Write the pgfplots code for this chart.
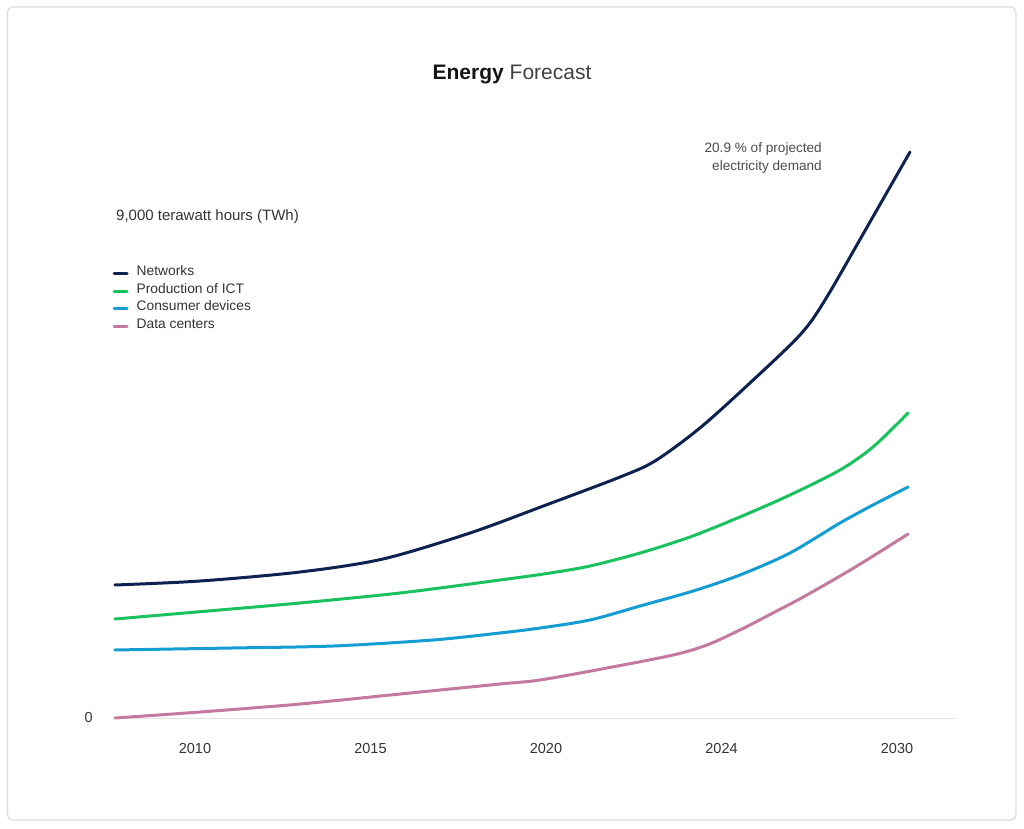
\documentclass[border=0pt]{standalone}
\usepackage{pgfplots}
\pgfplotsset{compat=1.18}
\usepackage{fontspec}
\setmainfont{Liberation Sans}
\definecolor{cnet}{HTML}{0D2250}
\definecolor{cict}{HTML}{19C25D}
\definecolor{cdev}{HTML}{149DD2}
\definecolor{cdc}{HTML}{C47A9E}
\definecolor{txt}{HTML}{333333}
\definecolor{axln}{HTML}{E4E4E4}
\begin{document}
\begin{tikzpicture}[x=1pt,y=1pt]
\path (0,0) rectangle (1024,828);
\draw[draw=black!14,line width=1.2pt,rounded corners=5pt] (7.5,8) rectangle (1016,821);
\begin{axis}[
  at={(115pt,110pt)},anchor=south west,
  width=840pt,height=578pt,scale only axis,
  xmin=-0.4558,xmax=4.3305,ymin=0,ymax=10342,
  clip=false,
  axis x line*=bottom,axis y line*=left,
  x axis line style={draw=axln,line width=1pt,-},
  y axis line style={draw=none},
  major tick length=0pt,
  scaled y ticks=false,
  xtick={0,1,2,3,4},
  xticklabels={2010,2015,2020,2024,2030},
  ytick={0},yticklabels={0},
  ticklabel style={font=\fontsize{14.5}{17}\selectfont,text=txt},
  xticklabel style={anchor=north,inner sep=0pt,yshift=-25pt},
  yticklabel style={anchor=east,inner sep=0pt,xshift=-22pt},
  legend style={at={(-0.003,0.785)},anchor=north west,draw=none,fill=none,
    font=\fontsize{13.8}{16}\selectfont,text=txt,inner sep=0pt,
    row sep=0pt,column sep=8pt,
    nodes={inner sep=0pt,text height=11pt,text depth=6.7pt}},
  legend cell align=left,
  legend image code/.code={\draw[#1,line width=3pt] (0pt,0pt) -- (13pt,0pt);},
  every axis plot/.append style={line width=3pt,smooth,tension=0.5,line cap=round},
]
\addplot[cnet] coordinates {
 (-0.456,2380) (0.028,2451) (0.598,2612) (1.071,2845) (1.567,3310)
 (2.000,3811) (2.422,4312) (2.621,4599) (2.877,5189) (3.162,5994)
 (3.447,6853) (3.590,7479) (3.846,8875) (4.074,10127)};
\addlegendentry{Networks}
\addplot[cict] coordinates {
 (-0.456,1771) (0.028,1902) (0.598,2058) (1.168,2237) (1.738,2469)
 (2.023,2594) (2.251,2720) (2.536,2952) (2.821,3239) (3.105,3597)
 (3.390,3990) (3.675,4437) (3.863,4849) (4.063,5457)};
\addlegendentry{Production of ICT}
\addplot[cdev] coordinates {
 (-0.456,1217) (0.217,1253) (0.786,1288) (1.356,1396) (1.738,1521)
 (1.966,1610) (2.251,1754) (2.536,2004) (2.838,2272) (3.105,2559)
 (3.390,2952) (3.675,3489) (3.863,3811) (4.063,4133)};
\addlegendentry{Consumer devices}
\addplot[cdc] coordinates {
 (-0.456,0) (0.028,107) (0.598,250) (1.168,429) (1.738,608)
 (1.966,680) (2.348,895) (2.724,1127) (2.917,1306) (3.105,1575)
 (3.293,1879) (3.487,2201) (3.772,2720) (4.063,3292)};
\addlegendentry{Data centers}
\end{axis}
\node[font=\fontsize{21}{25}\selectfont] at (512,753)
  {\textcolor{black!92}{\bfseries Energy} \textcolor{black!75}{Forecast}};
\node[anchor=west,inner sep=0pt,font=\fontsize{15}{18}\selectfont,text=txt] at (116,611)
  {9,000 terawatt hours (TWh)};
\node[anchor=east,inner sep=0pt,align=right,font=\fontsize{13.6}{18}\selectfont,text=black!70] at (822,670)
  {20.9 \% of projected\\electricity demand};
\end{tikzpicture}
\end{document}
